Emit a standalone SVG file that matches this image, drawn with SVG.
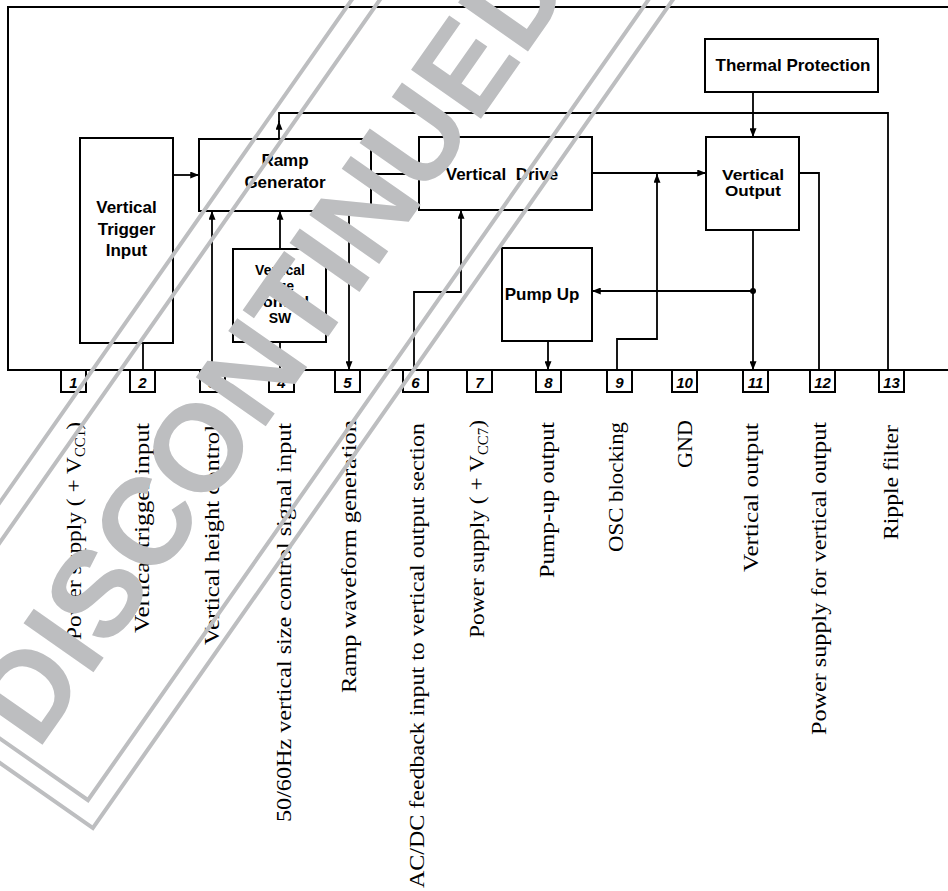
<svg xmlns="http://www.w3.org/2000/svg" width="948" height="891" viewBox="0 0 948 891">
<style>
.box{fill:none;stroke:#000;stroke-width:2}
.w{fill:none;stroke:#000;stroke-width:1.8}
.bt{font-family:"Liberation Sans",Arial,sans-serif;font-weight:bold;font-size:17px;text-anchor:middle;fill:#000}
.bs{font-family:"Liberation Sans",Arial,sans-serif;font-weight:bold;font-size:14px;text-anchor:middle;fill:#000}
.pn{font-family:"Liberation Sans",Arial,sans-serif;font-weight:bold;font-style:italic;font-size:15px;text-anchor:middle;fill:#000}
.lb{font-family:"Liberation Serif","Times New Roman",serif;font-size:22px;text-anchor:end;fill:#000}
.sub{font-size:14px}
.wm{fill:none;stroke:#bdbec0;stroke-width:4}
</style>
<defs>
<marker id="ar" viewBox="0 0 10 8" refX="10" refY="4" markerWidth="9" markerHeight="7" markerUnits="userSpaceOnUse" orient="auto">
<path d="M0,0 L10,4 L0,8 Z" fill="#000"/>
</marker>
</defs>
<rect width="948" height="891" fill="#fff"/>

<g id="ic-outline">
<path class="box" d="M948,7 H8 V370 H948"/>
</g>

<g id="pins">
<g id="pin1"><rect class="box" x="61" y="370" width="25" height="22"/><text class="pn" x="73.5" y="388">1</text></g>
<g id="pin2"><rect class="box" x="130" y="370" width="25" height="22"/><text class="pn" x="142.5" y="388">2</text></g>
<g id="pin3"><rect class="box" x="200" y="370" width="25" height="22"/><text class="pn" x="212.5" y="388">3</text></g>
<g id="pin4"><rect class="box" x="269" y="370" width="25" height="22"/><text class="pn" x="281.5" y="388">4</text></g>
<g id="pin5"><rect class="box" x="335" y="370" width="25" height="22"/><text class="pn" x="347.5" y="388">5</text></g>
<g id="pin6"><rect class="box" x="403" y="370" width="25" height="22"/><text class="pn" x="415.5" y="388">6</text></g>
<g id="pin7"><rect class="box" x="467" y="370" width="25" height="22"/><text class="pn" x="479.5" y="388">7</text></g>
<g id="pin8"><rect class="box" x="536" y="370" width="25" height="22"/><text class="pn" x="548.5" y="388">8</text></g>
<g id="pin9"><rect class="box" x="607" y="370" width="25" height="22"/><text class="pn" x="619.5" y="388">9</text></g>
<g id="pin10"><rect class="box" x="672" y="370" width="25" height="22"/><text class="pn" x="684.5" y="388">10</text></g>
<g id="pin11"><rect class="box" x="743" y="370" width="25" height="22"/><text class="pn" x="755.5" y="388">11</text></g>
<g id="pin12"><rect class="box" x="810" y="370" width="25" height="22"/><text class="pn" x="822.5" y="388">12</text></g>
<g id="pin13"><rect class="box" x="879" y="370" width="25" height="22"/><text class="pn" x="891.5" y="388">13</text></g>
</g>

<g id="trigger"><rect class="box" x="80" y="138" width="93" height="205"/>
<text class="bt" x="126.5" y="213">Vertical</text><text class="bt" x="126.5" y="235">Trigger</text><text class="bt" x="126.5" y="256">Input</text></g>

<g id="ramp"><rect class="box" x="199" y="139" width="172" height="72"/>
<text class="bt" x="285" y="166">Ramp</text><text class="bt" x="285" y="188">Generator</text></g>

<g id="sizesw"><rect class="box" x="233" y="249" width="93" height="93"/>
<text class="bs" x="280" y="275">Vertical</text><text class="bs" x="280" y="291">Size</text><text class="bs" x="280" y="307" textLength="58" lengthAdjust="spacingAndGlyphs">Control</text><text class="bs" x="280" y="323">SW</text></g>

<g id="drive"><rect class="box" x="419" y="137" width="173" height="73"/>
<text class="bt" x="502" y="180" xml:space="preserve">Vertical  Drive</text></g>

<g id="thermal"><rect class="box" x="705" y="39" width="173" height="53"/>
<text class="bt" x="793" y="71">Thermal Protection</text></g>

<g id="vout"><rect class="box" x="706" y="137" width="93" height="93"/>
<text class="bs" x="753" y="180" textLength="62" lengthAdjust="spacingAndGlyphs">Vertical</text><text class="bs" x="753" y="196" textLength="56" lengthAdjust="spacingAndGlyphs">Output</text></g>

<g id="pumpup"><rect class="box" x="502" y="248" width="90" height="93"/>
<text class="bt" x="542" y="300">Pump Up</text></g>

<g id="connectors">
<path class="w" d="M173,175 H199" marker-end="url(#ar)"/>
<path class="w" d="M279,139 V121" marker-end="url(#ar)"/>
<path class="w" d="M279,122 V113 H888 V370"/>
<path class="w" d="M212,370 V211" marker-end="url(#ar)"/>
<path class="w" d="M280,370 V342"/>
<path class="w" d="M280,249 V211" marker-end="url(#ar)"/>
<path class="w" d="M349,211 V370" marker-end="url(#ar)"/>
<path class="w" d="M371,174 H419"/>
<path class="w" d="M414,370 V292 H461 V210" marker-end="url(#ar)"/>
<path class="w" d="M592,173 H706" marker-end="url(#ar)"/>
<path class="w" d="M617,370 V339 H657 V174" marker-end="url(#ar)"/>
<path class="w" d="M753,92 V137" marker-end="url(#ar)"/>
<path class="w" d="M753,230 V370" marker-end="url(#ar)"/>
<path class="w" d="M753,291 H592" marker-end="url(#ar)"/>
<circle cx="753" cy="291" r="3" fill="#000"/>
<path class="w" d="M548,341 V370" marker-end="url(#ar)"/>
<path class="w" d="M799,173 H819 V370"/>
<path class="w" d="M143,343 V370"/>
</g>

<g id="pin-labels">
<text class="lb" transform="translate(81,422) rotate(-90)" textLength="218" lengthAdjust="spacingAndGlyphs">Power supply ( + V<tspan class="sub" dy="4">CC1</tspan><tspan dy="-4">)</tspan></text>
<text class="lb" transform="translate(149,423) rotate(-90)" textLength="210" lengthAdjust="spacingAndGlyphs">Vertical trigger input</text>
<text class="lb" transform="translate(219,425) rotate(-90)" textLength="220" lengthAdjust="spacingAndGlyphs">Vertical height control</text>
<text class="lb" transform="translate(291,423) rotate(-90)" textLength="399" lengthAdjust="spacingAndGlyphs">50/60Hz vertical size control signal input</text>
<text class="lb" transform="translate(356,420) rotate(-90)" textLength="273" lengthAdjust="spacingAndGlyphs">Ramp waveform generation</text>
<text class="lb" transform="translate(424,423) rotate(-90)" textLength="465" lengthAdjust="spacingAndGlyphs">AC/DC feedback input to vertical output section</text>
<text class="lb" transform="translate(484,420) rotate(-90)" textLength="218" lengthAdjust="spacingAndGlyphs">Power supply ( + V<tspan class="sub" dy="4">CC7</tspan><tspan dy="-4">)</tspan></text>
<text class="lb" transform="translate(554,422) rotate(-90)" textLength="156" lengthAdjust="spacingAndGlyphs">Pump-up output</text>
<text class="lb" transform="translate(623,422) rotate(-90)" textLength="130" lengthAdjust="spacingAndGlyphs">OSC blocking</text>
<text class="lb" transform="translate(692,420) rotate(-90)" textLength="48" lengthAdjust="spacingAndGlyphs">GND</text>
<text class="lb" transform="translate(758,423) rotate(-90)" textLength="149" lengthAdjust="spacingAndGlyphs">Vertical output</text>
<text class="lb" transform="translate(826,422) rotate(-90)" textLength="313" lengthAdjust="spacingAndGlyphs">Power supply for vertical output</text>
<text class="lb" transform="translate(898,425) rotate(-90)" textLength="115" lengthAdjust="spacingAndGlyphs">Ripple filter</text>
</g>

<g id="watermark" transform="rotate(-55)">
<rect class="wm" x="-605" y="311" width="1300" height="220"/>
<rect class="wm" x="-625" y="288" width="1340" height="263"/>
<text x="-594" y="462" fill="#bdbec0" style="font-family:'Liberation Sans',Arial,sans-serif;font-weight:bold;font-size:124px" textLength="935" lengthAdjust="spacingAndGlyphs">DISCONTINUED</text>
</g>
</svg>
